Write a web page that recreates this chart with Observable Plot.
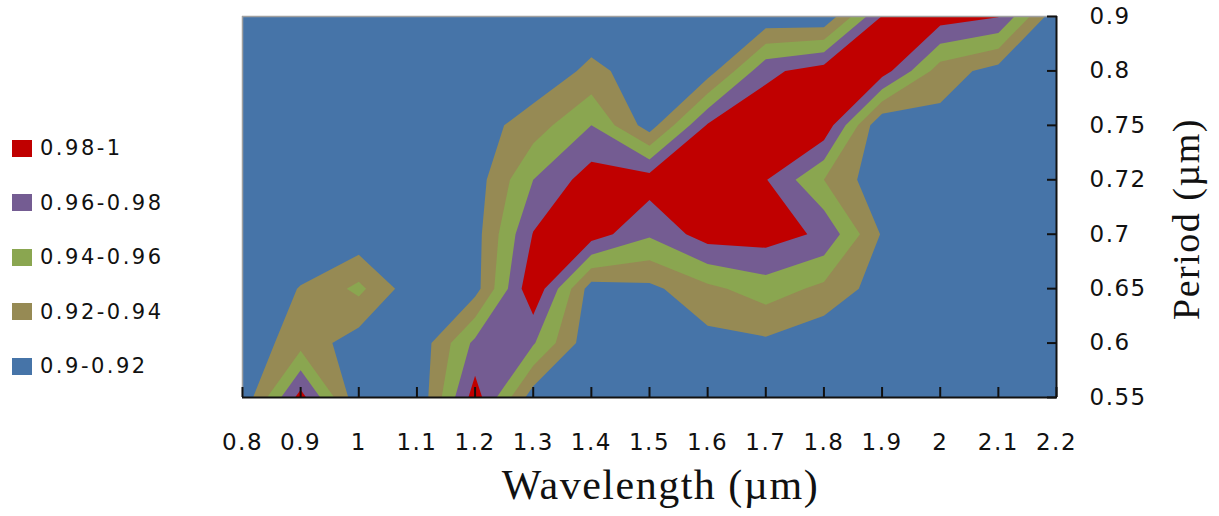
<!DOCTYPE html>
<html>
<head>
<meta charset="utf-8">
<script src="https://cdn.jsdelivr.net/npm/d3@7"></script>
<script src="https://cdn.jsdelivr.net/npm/@observablehq/plot@0.6"></script>
<style>
  body { margin: 0; background: #fff; }
  #wrap { position: relative; width: 1219px; height: 516px; }
  #wrap svg { position: absolute; left: 0; top: 0; }
  #legend { position: absolute; left: 12px; top: 121px; font-family: "DejaVu Sans", sans-serif; font-size: 21px; letter-spacing: 2.5px; color: #111; }
  .item { display: flex; align-items: center; height: 54.5px; }
  .sw { width: 20px; height: 17px; margin-right: 8px; }
</style>
</head>
<body>
<div id="wrap"><div id="legend"></div></div>
<script>
// Wavelength (µm) columns and their tick labels
const xValues = [0.8, 0.9, 1.0, 1.1, 1.2, 1.3, 1.4, 1.5, 1.6, 1.7, 1.8, 1.9, 2.0, 2.1, 2.2];
const xLabels = ["0.8", "0.9", "1", "1.1", "1.2", "1.3", "1.4", "1.5", "1.6", "1.7", "1.8", "1.9", "2", "2.1", "2.2"];
// Period (µm) rows (evenly spaced categories, bottom to top)
const periodLabels = ["0.55", "0.6", "0.65", "0.7", "0.72", "0.75", "0.8", "0.9"];

// Values, one row per period, one value per wavelength
const eff055 = [0.905, 0.988, 0.905, 0.903, 0.990, 0.909, 0.903, 0.903, 0.903, 0.903, 0.903, 0.903, 0.903, 0.903, 0.903];
const eff060 = [0.905, 0.932, 0.910, 0.905, 0.965, 0.962, 0.905, 0.905, 0.913, 0.916, 0.905, 0.903, 0.903, 0.903, 0.903];
const eff065 = [0.905, 0.921, 0.945, 0.905, 0.912, 0.997, 0.910, 0.915, 0.935, 0.950, 0.935, 0.910, 0.905, 0.903, 0.903];
const eff070 = [0.905, 0.905, 0.905, 0.905, 0.912, 0.981, 0.990, 0.963, 0.990, 0.990, 0.976, 0.918, 0.905, 0.903, 0.903];
const eff072 = [0.905, 0.905, 0.905, 0.905, 0.910, 0.960, 0.990, 0.990, 0.990, 0.981, 0.940, 0.905, 0.905, 0.903, 0.903];
const eff075 = [0.905, 0.905, 0.905, 0.905, 0.910, 0.930, 0.960, 0.910, 0.982, 0.995, 0.995, 0.901, 0.913, 0.903, 0.903];
const eff080 = [0.905, 0.905, 0.905, 0.905, 0.905, 0.905, 0.925, 0.910, 0.910, 0.975, 0.990, 0.990, 0.930, 0.912, 0.905];
const eff090 = [0.905, 0.905, 0.905, 0.905, 0.905, 0.905, 0.905, 0.905, 0.905, 0.905, 0.903, 0.981, 0.990, 0.981, 0.905];

// Contour bands
const bandThresholds = [0.90, 0.92, 0.94, 0.96, 0.98];
const bandLabels = ["0.9-0.92", "0.92-0.94", "0.94-0.96", "0.96-0.98", "0.98-1"];
const bandColors = ["#4674A8", "#968A54", "#8AA650", "#745C92", "#C00000"];

const rows = [eff055, eff060, eff065, eff070, eff072, eff075, eff080, eff090];
const grid = rows.flat();
const yIdx = periodLabels.map((_, i) => i);
const nx = xValues.length, ny = periodLabels.length;
const dxStep = (xValues[nx - 1] - xValues[0]) / (nx - 1);
const serif = "Liberation Serif, Times New Roman, serif";

const chart = Plot.plot({
  width: 1219,
  height: 516,
  marginLeft: 242,
  marginRight: 163,
  marginTop: 16,
  marginBottom: 119,
  x: {domain: [xValues[0], xValues[nx - 1]]},
  y: {domain: [0, ny - 1]},
  color: {type: "threshold", domain: bandThresholds.slice(1), range: bandColors},
  style: {fontFamily: "DejaVu Sans, sans-serif", fontSize: "23px", color: "#111", letterSpacing: "1.5px", background: "transparent", overflow: "visible"},
  marks: [
    Plot.contour(grid, {
      width: nx, height: ny,
      x1: xValues[0] - dxStep / 2, x2: xValues[nx - 1] + dxStep / 2,
      y1: -0.5, y2: ny - 0.5,
      thresholds: bandThresholds,
      fill: Plot.identity,
      clip: true
    }),
    Plot.ruleY([ny - 1], {stroke: "#a0a0a0", strokeWidth: 1.5}),
    Plot.ruleX([xValues[0]], {stroke: "#a0a0a0", strokeWidth: 1.5}),
    Plot.ruleY([0], {stroke: "#111", strokeWidth: 2}),
    Plot.ruleX([xValues[nx - 1]], {stroke: "#111", strokeWidth: 2}),
    Plot.axisX(xValues, {anchor: "bottom", tickSize: 10, dy: -10, fill: "none", stroke: "#111", strokeWidth: 2, label: null}),
    Plot.axisX(xValues, {anchor: "bottom", tickSize: 0, tickPadding: 36, tickFormat: d => xLabels[xValues.indexOf(d)], fill: "#111", label: null}),
    Plot.axisY(yIdx, {anchor: "right", tickSize: 10, dx: -10, fill: "none", stroke: "#111", strokeWidth: 2, label: null}),
    Plot.axisY(yIdx, {anchor: "right", tickSize: 0, tickPadding: 33, tickFormat: i => periodLabels[i], fill: "#111", label: null}),
    Plot.text(["Wavelength (µm)"], {frameAnchor: "bottom", lineAnchor: "middle", textAnchor: "middle", dx: 11, dy: 88, fontSize: 42, fontFamily: serif, fill: "#111"}),
    Plot.text(["Period (µm)"], {frameAnchor: "right", lineAnchor: "middle", textAnchor: "middle", dx: 130, dy: 12, rotate: -90, fontSize: 38, fontFamily: serif, fill: "#111"})
  ]
});

const wrap = document.getElementById("wrap");
wrap.insertBefore(chart, wrap.firstChild);

// Legend (top to bottom: highest band first)
const legend = d3.select("#legend");
const order = bandLabels.map((_, i) => i).reverse();
for (const i of order) {
  const item = legend.append("div").attr("class", "item");
  item.append("div").attr("class", "sw").style("background", bandColors[i]);
  item.append("span").text(bandLabels[i]);
}
</script>
</body>
</html>
